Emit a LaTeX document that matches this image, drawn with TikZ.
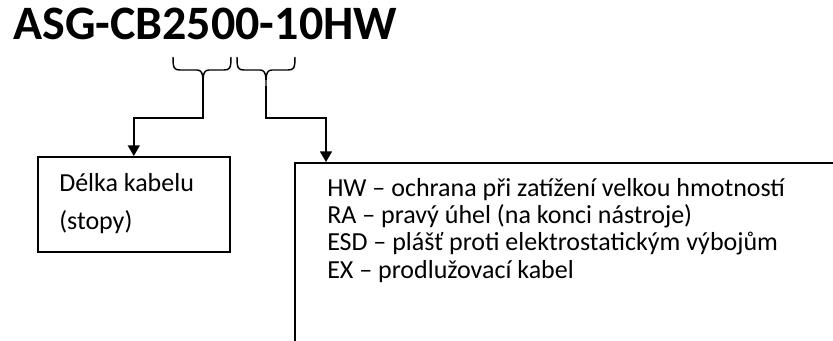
\documentclass[tikz,border=0pt]{standalone}
\usepackage{fontspec}
\setmainfont{Carlito}
\usetikzlibrary{arrows.meta}

\tikzset{
  bracket/.style={line width=1.1pt, line join=round},
  link/.style={line width=1.1pt, -{Triangle[width=9pt,length=8pt]}},
  labelbox/.style={draw, line width=1.2pt, inner sep=0pt},
  boxtext/.style={anchor=north west, inner sep=0pt, align=left},
}

\begin{document}
\begin{tikzpicture}[x=0.75pt,y=-0.75pt]
  \useasboundingbox (0,0) rectangle (833,341);
  \clip (0,0) rectangle (833,341);

  % Part number
  \node[anchor=base west, inner sep=0pt, font=\fontsize{36}{40}\selectfont\bfseries] (partno) at (13,40) {ASG-CB2500-10HW};

  % Braces under the number
  \coordinate (lentip) at (203,80);
  \coordinate (opttip) at (266,86);
  \draw[bracket] (173,57) .. controls (173,68) and (174,70) .. (180,70) -- (197,70)
    .. controls (201,70) and (203,73) .. (lentip)
    .. controls (203,73) and (205,70) .. (209,70) -- (224,70)
    .. controls (230,70) and (231,68) .. (231,57);
  \draw[bracket] (237,57) .. controls (237,68) and (238,70) .. (244,70) -- (260,70)
    .. controls (264,70) and (266,73) .. (266,80) -- (opttip);
  \draw[bracket] (266,80) .. controls (266,73) and (268,70) .. (272,70) -- (288,70)
    .. controls (294,70) and (295,68) .. (295,57);

  % Boxes
  \node[labelbox, anchor=north west, minimum width=144pt, minimum height=71.25pt] (lenbox) at (37,156) {};
  \node[boxtext, font=\fontsize{19.5}{28.5}\selectfont] (lentext) at (59,173) {Délka kabelu\\(stopy)};

  \node[labelbox, anchor=north west, minimum width=450pt, minimum height=190pt] (optbox) at (294,162) {};
  \coordinate (optin) at (326,162);
  \node[boxtext, font=\fontsize{19.5}{20.5}\selectfont] (opttext) at (327,178) {HW – ochrana při zatížení velkou hmotností\\RA – pravý úhel (na konci nástroje)\\ESD – plášť proti elektrostatickým výbojům\\EX – prodlužovací kabel};

  % Connectors
  \draw[link] (lentip) -- ++(0,38) -| (lenbox.north);
  \draw[link] (opttip) -- ++(0,32) -| (optin);
\end{tikzpicture}
\end{document}
